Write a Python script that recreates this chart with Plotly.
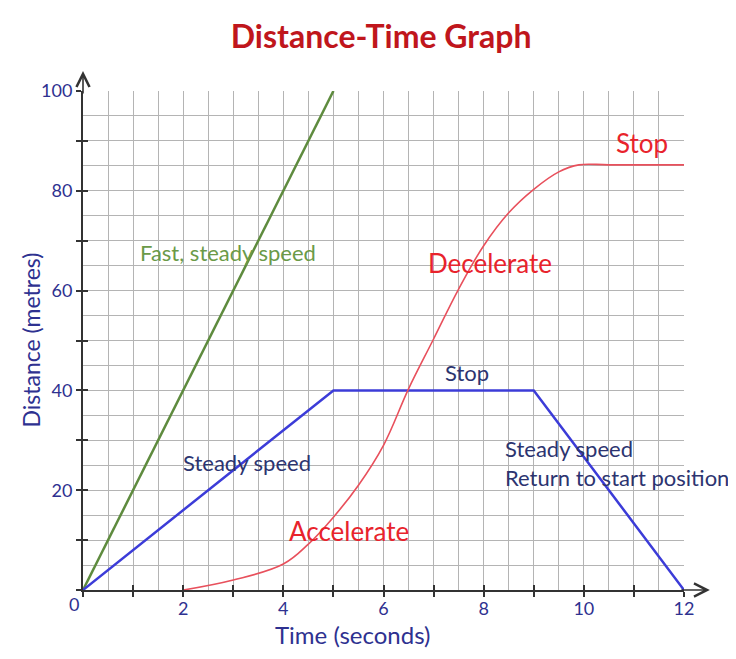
import plotly.graph_objects as go

# Time (s) / distance (m)
fast_t = [0, 5]
fast_d = [0, 100]

steady_t = [0, 5, 9, 12]
steady_d = [0, 40, 40, 0]

accel_t = [2, 3, 4, 4.5, 5, 5.5, 6, 6.5, 7, 7.5, 8, 8.5, 9, 9.5, 9.9, 10.5, 12]
accel_d = [0, 2, 5.2, 9.2, 14.6, 21, 29, 40.3, 50.3, 60.3, 69, 75.6, 80.3, 83.8, 85.2, 85.2, 85.2]

x_ticks = list(range(0, 13))
x_labels = ["" if (t % 2 or t == 0) else str(t) for t in x_ticks]
y_ticks = list(range(0, 101, 10))
y_labels = ["" if (d % 20 or d == 0) else str(d) for d in y_ticks]

NAVY = "#2e3190"
DARK = "#333333"
GRID = "#b4b4b4"
FONT = "Lato"

fig = go.Figure()

fig.add_trace(go.Scatter(x=fast_t, y=fast_d, mode="lines",
                         line=dict(color="#5e8b3e", width=2.5), cliponaxis=False))
fig.add_trace(go.Scatter(x=steady_t, y=steady_d, mode="lines",
                         line=dict(color="#3c3cd8", width=2.5), cliponaxis=False))
fig.add_trace(go.Scatter(x=accel_t, y=accel_d, mode="lines",
                         line=dict(color="#e8505c", width=1.6, shape="spline", smoothing=1.1),
                         cliponaxis=False))
# empty trace so the overlay axes (inner half of the tick marks) get drawn
fig.add_trace(go.Scatter(x=[None], y=[None], xaxis="x2", yaxis="y2", hoverinfo="skip"))

axis_common = dict(showline=True, linecolor=DARK, linewidth=2, ticks="outside",
                   ticklen=5, tickwidth=1.5, tickcolor=DARK, zeroline=False,
                   showgrid=True, gridcolor=GRID, gridwidth=1.3, automargin=False,
                   tickfont=dict(family=FONT, size=18, color=NAVY), tickmode="array")

fig.update_layout(
    width=736, height=659,
    margin=dict(l=75, r=60, t=83, b=77),
    paper_bgcolor="white", plot_bgcolor="white",
    showlegend=False,
    font=dict(family=FONT),
    title=dict(text="<b>Distance-Time Graph</b>", x=0.507, xanchor="center",
               y=0.956, yanchor="middle",
               font=dict(family=FONT, size=32, color="#c0161c")),
    xaxis=dict(range=[0, 12], tickvals=x_ticks, ticktext=x_labels,
               ticklabelstandoff=-4,
               minor=dict(tickmode="linear", tick0=0, dtick=0.5, showgrid=True,
                          gridcolor=GRID, gridwidth=1.3),
               **axis_common),
    yaxis=dict(range=[0, 100], tickvals=y_ticks, ticktext=y_labels,
               minor=dict(tickmode="linear", tick0=0, dtick=5, showgrid=True,
                          gridcolor=GRID, gridwidth=1.3),
               **axis_common),
    xaxis2=dict(overlaying="x", anchor="y", matches="x", range=[0, 12],
                tickmode="array", tickvals=x_ticks, showticklabels=False,
                ticks="inside", ticklen=5, tickwidth=1.5, tickcolor=DARK,
                showgrid=False, zeroline=False, showline=False),
    yaxis2=dict(overlaying="y", anchor="x", matches="y", range=[0, 100], side="left",
                tickmode="array", tickvals=y_ticks, showticklabels=False,
                ticks="inside", ticklen=5, tickwidth=1.5, tickcolor=DARK,
                showgrid=False, zeroline=False, showline=False),
)

# axis arrows
fig.add_annotation(x=1.043, y=0, xref="paper", yref="paper", ax=-30, ay=0,
                   text="", showarrow=True, arrowhead=5, arrowsize=1.6,
                   arrowwidth=1.6, arrowcolor=DARK)
fig.add_annotation(x=0, y=1.04, xref="paper", yref="paper", ax=0, ay=24,
                   text="", showarrow=True, arrowhead=5, arrowsize=1.6,
                   arrowwidth=1.6, arrowcolor=DARK)

# origin label and axis titles
fig.add_annotation(x=0, y=0, xref="x", yref="y", text="0", showarrow=False,
                   xshift=-9, yshift=-14, font=dict(family=FONT, size=18, color=NAVY))
fig.add_annotation(x=5.39, y=0, xref="x", yref="y", text="Time (seconds)",
                   showarrow=False, yshift=-44, xanchor="center", yanchor="middle",
                   font=dict(family=FONT, size=24, color=NAVY))
fig.add_annotation(x=0, y=50, xref="paper", yref="y", text="Distance (metres)",
                   showarrow=False, textangle=-90, xshift=-53,
                   xanchor="center", yanchor="middle",
                   font=dict(family=FONT, size=23, color=NAVY))

# segment labels
labels = [
    (2.9, 67.6, "Fast, steady speed", "#6b9a48", 22),
    (3.27, 25.6, "Steady speed", "#2c3470", 22),
    (7.67, 43.6, "Stop", "#2c3470", 22),
    (5.31, 11.8, "Accelerate", "#e8232c", 26),
    (8.13, 65.5, "Decelerate", "#e8232c", 26),
    (11.16, 89.6, "Stop", "#e8232c", 26),
]
for t, d, txt, col, size in labels:
    fig.add_annotation(x=t, y=d, xref="x", yref="y", text=txt, showarrow=False,
                       xanchor="center", yanchor="middle",
                       font=dict(family=FONT, size=size, color=col))

fig.add_annotation(x=8.38, y=25.5, xref="x", yref="y",
                   text="Steady speed<br>Return to start position",
                   showarrow=False, xanchor="left", yanchor="middle", align="left",
                   font=dict(family=FONT, size=22, color="#2c3470"))

fig.write_html("out.html")
